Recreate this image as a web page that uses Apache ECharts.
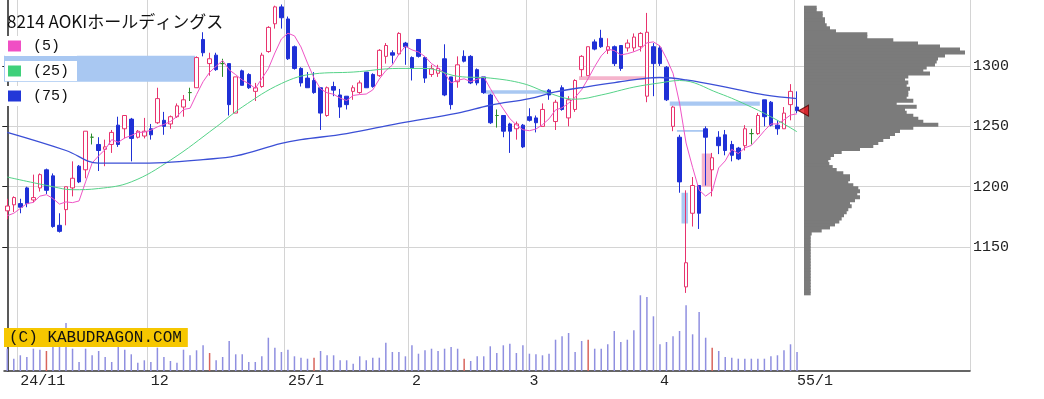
<!DOCTYPE html>
<html><head><meta charset="utf-8">
<script src="https://cdn.jsdelivr.net/npm/echarts@6/dist/echarts.min.js"></script>
<style>html,body{margin:0;padding:0;background:#fff}#c{width:1044px;height:399px}</style>
</head><body><div id="c"></div>
<script>
const chartTitle = '8214 AOKIホールディングス';
const maNames = ['(5)', '(25)', '(75)'];
const monthIdx = [2, 22, 43, 62, 80, 100, 121];
const monthLabels = ['24/11', '12', '25/1', '2', '3', '4', '55/1'];
const priceTicks = [1150, 1200, 1250, 1300];

const opens = [1180,1185,1186,1199,1189,1199,1214,1209,1168,1181, 1199,1217,1214,1241,1235,1231,1235,1251,1248,1256, 1241,1242,1248,1253,1255,1252,1258,1266,1278,1282, 1322,1302,1309,1302,1302,1261,1296,1293,1279,1283, 1312,1335,1349,1339,1316,1298,1290,1288,1282,1259, 1283,1276,1275,1279,1278,1295,1293,1292,1308,1311, 1310,1319,1307,1322,1307,1293,1294,1306,1291,1287, 1308,1308,1297,1291,1276,1259,1259,1252,1248,1251, 1258,1257,1250,1280,1254,1282,1257,1264,1297,1292, 1320,1323,1313,1316,1317,1315,1315,1316,1275,1316, 1315,1299,1250,1241,1117,1178,1201,1248,1214,1241, 1243,1235,1232,1234,1244,1244,1272,1270,1251,1248, 1268,1266];
const closes = [1184,1191,1183,1186,1191,1210,1197,1167,1163,1200, 1207,1204,1246,1241,1230,1233,1245,1235,1259,1240, 1246,1246,1243,1273,1250,1258,1267,1272,1278,1307, 1311,1306,1297,1302,1268,1291,1284,1282,1282,1309, 1332,1349,1340,1306,1298,1286,1282,1278,1261,1282, 1280,1266,1268,1282,1286,1282,1283,1313,1317,1309, 1327,1316,1298,1308,1290,1298,1298,1276,1268,1301, 1304,1286,1286,1278,1253,1259,1246,1246,1252,1233, 1255,1253,1264,1276,1270,1264,1272,1288,1308,1316, 1314,1316,1316,1302,1298,1319,1324,1327,1328,1302, 1302,1272,1266,1204,1137,1201,1178,1241,1224,1234, 1230,1226,1223,1248,1244,1259,1258,1251,1248,1261, 1279,1263];
const lows = [1173,1179,1178,1183,1187,1196,1194,1166,1162,1168, 1192,1203,1207,1235,1213,1217,1228,1233,1240,1221, 1240,1240,1239,1252,1243,1248,1257,1258,1271,1282, 1308,1292,1296,1291,1259,1261,1284,1281,1271,1282, 1311,1331,1331,1305,1297,1283,1282,1277,1247,1258, 1275,1257,1264,1272,1277,1282,1282,1291,1302,1302, 1309,1301,1288,1307,1286,1291,1291,1275,1264,1282, 1303,1285,1284,1277,1252,1249,1241,1228,1239,1232, 1254,1245,1250,1272,1247,1263,1250,1262,1291,1292, 1313,1315,1310,1300,1296,1312,1312,1312,1270,1275, 1300,1271,1246,1195,1112,1167,1165,1201,1192,1227, 1226,1221,1222,1230,1235,1243,1250,1250,1243,1248, 1255,1261];
const highs = [1190,1192,1190,1200,1210,1211,1215,1211,1178,1200, 1221,1218,1246,1244,1241,1239,1247,1258,1259,1257, 1247,1257,1252,1282,1262,1259,1269,1276,1282,1308, 1328,1311,1311,1306,1302,1291,1297,1294,1286,1311, 1333,1350,1351,1341,1317,1299,1295,1295,1282,1283, 1287,1281,1275,1284,1288,1295,1294,1314,1319,1313, 1328,1320,1308,1322,1308,1301,1301,1318,1291,1308, 1313,1309,1298,1291,1277,1264,1259,1253,1254,1252, 1265,1259,1269,1281,1272,1284,1275,1289,1309,1316, 1322,1330,1323,1317,1317,1322,1327,1328,1344,1319, 1317,1300,1267,1243,1197,1208,1201,1250,1228,1246, 1247,1238,1233,1251,1248,1261,1272,1271,1255,1266, 1285,1279];
const dojiIdx = [13, 28, 33, 75, 114];

const volumes = [223,123,157,140,223,213,200,240,240,480, 223,90,223,157,200,140,90,240,213,167, 83,107,90,233,140,100,83,213,157,207, 257,180,107,140,300,167,167,90,90,147, 333,233,190,213,147,133,123,133,200,157, 157, 107,107,73,147,107,133,133,283,190,190, 147,257,173,207,223,200,223,240,223,123, 100,147,147,247,180,257,273,180,257,173, 167,157,173,313,347,380,190,300,313,223, 223,267,400,290,313,407,757,740,547,267, 290,347,400,657,367,590,333,233,200,140, 133,123,123,123,123,123,147,157,207,267, 190];
const redVolIdx = [6, 31, 47, 70, 89, 108];

const ma5Head = [1176, 1178, 1182, 1186];
const ma25Idx = [0,7,10,14,19,25,32,36,42,47,53,60,64,69,74,79,83,87,91,96,100,103,109,114,118,121];
const ma25Val = [1208,1200,1197.5,1198.5,1204,1222,1249.5,1266,1285.5,1293.5,1295,1298,1298,1291.5,1290,1285.5,1277.5,1272.5,1276,1282.5,1286,1288,1277.5,1266,1255,1245.5];
const ma75Idx = [0,9,14,19,24,30,35,42,45,52,60,69,74,80,84,89,94,98,100,104,111,116,121];
const ma75Val = [1245,1230,1219.5,1219.5,1220,1222.5,1225.5,1236,1239,1244,1252.5,1261,1267.5,1273,1278.5,1283,1287,1290,1290.5,1288.5,1281.5,1276,1273];

const gapStart = [-1.1, 72.9, 87.6, 101.5, 102.6, 103.3, 106.4];
const gapEnd   = [28.8, 82.8, 97.7, 115.3, 106.9, 104.3, 107.9];
const gapLow   = [1287, 1277, 1288.5, 1267, 1245.5, 1169.5, 1200];
const gapHigh  = [1308.5, 1280, 1291.5, 1270.5, 1247, 1195, 1227.5];
const gapUp    = [false, false, true, false, false, false, true];

const profileBase = 1110, profileStep = 2.5;
const profileVals = [6.7,6.7,6.7,6.7,6.7,6.7,6.7,6.7,6.7,6.7, 6.7,6.7,6.7,6.7,6.7,6.7,6.7,6.7,6.7,6.7,
  7.7,17.7,26,31,35.3,37.7,40,42.7,44.3,47.7, 46,51,56,53.3,56,54.3,49.3,44.3,46,46,
  39.3,32.7,28.7,25.3,24.3,26.7,30,37.7,56,69.3, 74.3,79.3,86,91,96,109.3,134.3,119.3,114.3,109.3,
  102.7,101,112.7,92.7,109.3,102.7,104.3,104.3,106,102.7, 104.3,101,104.3,126,119.3,122.7,131,132.7,134,141,
  161,156,136,114,89.3,63.3,63.3,32,26,22.7, 21,21,18.7,18.7,12.7,12.7];

// ---- layout ----
const GL = 4, GW = 966, GT = 0, GH = 371, NSLOT = 148;
const PMIN = 1047.3, PMAX = 1354.7;
const VOLMAX = 3710;
const PROF_LEFT = 804, PROF_MAXV = 166;
const profTopPrice = profileBase + profileStep * profileVals.length;
const pxPerYen = GH / (PMAX - PMIN);

const cats = Array.from({length: NSLOT}, (_, i) => String(i));
const labelAt = {};
monthIdx.forEach((k, j) => labelAt[k] = monthLabels[j]);
const isMonth = (idx) => labelAt[idx] !== undefined;

const candleData = opens.map((o, i) => {
  const item = {value: [o, closes[i], lows[i], highs[i]]};
  if (dojiIdx.includes(i)) item.itemStyle = {color: '#2b8c2b', color0: '#2b8c2b', borderColor: '#2b8c2b', borderColor0: '#2b8c2b'};
  return item;
});
const volData = volumes.map((v, i) => redVolIdx.includes(i) ? {value: v, itemStyle: {color: '#d8645c'}} : v);
const ma5 = closes.map((c, i) => i < ma5Head.length ? ma5Head[i] :
  Math.round((closes[i] + closes[i-1] + closes[i-2] + closes[i-3] + closes[i-4]) / 5 * 10) / 10);
const ma25 = ma25Idx.map((k, j) => [k, ma25Val[j]]);
const ma75 = ma75Idx.map((k, j) => [k, ma75Val[j]]);
const gapAreas = gapStart.map((s, j) => [
  {xAxis: s, yAxis: gapLow[j], itemStyle: {color: gapUp[j] ? '#f5b4cc' : '#a9c8f2', opacity: 1}},
  {xAxis: gapEnd[j], yAxis: gapHigh[j]}
]);
const profCats = profileVals.map((_, k) => String(profileBase + profileStep * k));

const labelFont = 'Liberation Mono';
const rowsY = [46, 71, 96];
const maColors = ['#ef55c6', '#55d388', '#3b4fd6'];
const squareColors = ['#f04fc4', '#3fd07a', '#2237d8'];

const graphics = [
  {type: 'text', x: 7, y: 22, z: 100, style: {text: chartTitle, font: '17px "Noto Sans CJK JP"', fill: '#111', verticalAlign: 'middle'}},
  {type: 'text', x: 4, y: 328, z: 100, style: {text: '(C) KABUDRAGON.COM', font: '16px "Liberation Mono"', fill: '#111',
    backgroundColor: '#f6c700', padding: [2, 6, 1, 5], verticalAlign: 'top'}}
];
maNames.forEach((n, j) => {
  graphics.push({type: 'rect', z: 99, shape: {x: 5, y: rowsY[j] - 10, width: 72, height: 20}, style: {fill: '#fff'}});
  graphics.push({type: 'rect', z: 100, shape: {x: 8, y: rowsY[j] - 5.5, width: 13, height: 11}, style: {fill: squareColors[j]}});
  graphics.push({type: 'text', z: 100, x: 33, y: rowsY[j], style: {text: n, font: '15px "Liberation Mono"', fill: '#111', verticalAlign: 'middle'}});
});

const chart = echarts.init(document.getElementById('c'), null, {renderer: 'canvas'});
chart.setOption({
  animation: false,
  backgroundColor: '#fff',
  grid: [
    {left: GL, top: GT, width: GW, height: GH, outerBoundsMode: 'none', containLabel: false},
    {left: PROF_LEFT, width: GL + GW - PROF_LEFT,
     top: GT + (PMAX - profTopPrice) * pxPerYen,
     height: (profTopPrice - profileBase) * pxPerYen, outerBoundsMode: 'none', containLabel: false}
  ],
  xAxis: [
    {gridIndex: 0, type: 'category', data: cats, boundaryGap: true,
     axisLine: {show: true, lineStyle: {color: '#333', width: 1.5}},
     axisTick: {show: false},
     axisLabel: {interval: (idx) => isMonth(idx), formatter: (v, idx) => labelAt[idx] || '',
       align: 'left', margin: 3, fontFamily: labelFont, fontSize: 15, color: '#222'},
     splitLine: {show: true, interval: (idx) => isMonth(idx), lineStyle: {color: '#d4d4d4', width: 1}}},
    {gridIndex: 0, type: 'value', min: -0.5, max: NSLOT - 0.5, show: false},
    {gridIndex: 1, type: 'value', min: 0, max: PROF_MAXV, show: false}
  ],
  yAxis: [
    {gridIndex: 0, type: 'value', position: 'right', min: PMIN, max: PMAX,
     axisLine: {show: true, lineStyle: {color: '#222', width: 1.5}},
     axisTick: {show: true, inside: true, length: 5, customValues: priceTicks, lineStyle: {color: '#222'}},
     axisLabel: {customValues: priceTicks, formatter: (v) => String(v), margin: 3, fontFamily: labelFont, fontSize: 15, color: '#222'},
     splitLine: {show: true, lineStyle: {color: '#d4d4d4', width: 1}}},
    {gridIndex: 0, type: 'value', min: 0, max: VOLMAX, show: false},
    {gridIndex: 1, type: 'category', data: profCats, boundaryGap: true, show: false}
  ],
  graphic: graphics,
  series: [
    {type: 'bar', name: 'volume', xAxisIndex: 0, yAxisIndex: 1, data: volData, barWidth: 1.5,
     itemStyle: {color: '#8f8fe0'}, z: 1, silent: true},
    {type: 'line', name: 'gaps', xAxisIndex: 1, yAxisIndex: 0, data: [], z: 2, silent: true,
     markArea: {silent: true, data: gapAreas}},
    {type: 'candlestick', name: 'price', xAxisIndex: 0, yAxisIndex: 0, data: candleData, barWidth: 4, z: 3,
     itemStyle: {color: '#ffffff', color0: '#1f30d6', borderColor: '#e8336d', borderColor0: '#1f30d6', borderWidth: 1}},
    {type: 'line', name: maNames[0], xAxisIndex: 0, yAxisIndex: 0, data: ma5, symbol: 'none', z: 4,
     lineStyle: {color: maColors[0], width: 1}, itemStyle: {color: maColors[0]}},
    {type: 'line', name: maNames[1], xAxisIndex: 1, yAxisIndex: 0, data: ma25, symbol: 'none', smooth: 0.4, z: 4,
     lineStyle: {color: maColors[1], width: 1}, itemStyle: {color: maColors[1]}},
    {type: 'line', name: maNames[2], xAxisIndex: 1, yAxisIndex: 0, data: ma75, symbol: 'none', smooth: 0.4, z: 4,
     lineStyle: {color: maColors[2], width: 1.3}, itemStyle: {color: maColors[2]}},
    {type: 'bar', name: 'profile', xAxisIndex: 2, yAxisIndex: 2, data: profileVals, barWidth: 4,
     itemStyle: {color: '#7b7b7b'}, z: 2, silent: true},
    {type: 'scatter', name: 'last', xAxisIndex: 1, yAxisIndex: 0, data: [[closes.length, closes[closes.length - 1]]],
     symbol: 'triangle', symbolRotate: 90, symbolSize: [11, 10], z: 10,
     itemStyle: {color: '#e8141c', borderColor: '#500', borderWidth: 1}}
  ]
});
</script></body></html>
